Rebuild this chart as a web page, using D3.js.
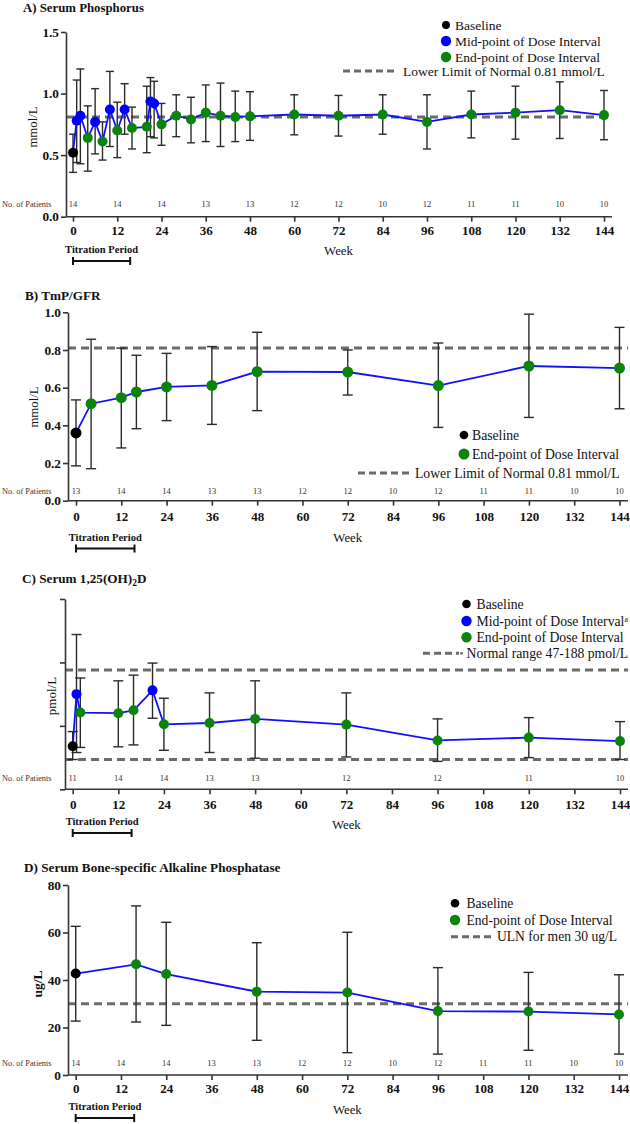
<!DOCTYPE html>
<html><head><meta charset="utf-8">
<script src="https://cdn.jsdelivr.net/npm/d3@7/dist/d3.min.js"></script>
<style>
body{margin:0;background:#fff;}
svg{display:block;font-family:"Liberation Serif","Times New Roman",serif;}
</style></head><body>
<svg id="c" width="630" height="1124"></svg>
<script>
// ---------- shared ----------
const weekTicks = [0,12,24,36,48,60,72,84,96,108,120,132,144];
const titrationWeeks = [0, 15.5];

// ---------- A) Serum Phosphorus (mmol/L) ----------
const phosWeeks = [0,1,2,4,6,8,10,12,14,16,20,21,22,24,28,32,36,40,44,48,60,72,84,96,108,120,132,144];
const phosType  = ["B","M","M","E","M","E","M","E","M","E","E","M","M","E","E","E","E","E","E","E","E","E","E","E","E","E","E","E"];
const phosMean  = [0.52,0.78,0.82,0.64,0.77,0.61,0.87,0.70,0.87,0.72,0.73,0.935,0.92,0.75,0.82,0.79,0.845,0.82,0.81,0.815,0.83,0.82,0.83,0.77,0.83,0.845,0.865,0.825];
const phosHi    = [0.67,1.11,1.20,0.90,1.04,0.77,1.18,0.93,1.08,0.89,1.06,1.13,1.10,0.92,0.99,0.97,1.07,1.085,1.02,1.015,0.99,0.985,0.99,0.99,1.02,1.06,1.095,1.025];
const phosLo    = [0.36,0.44,0.43,0.37,0.51,0.46,0.57,0.48,0.67,0.55,0.52,0.65,0.64,0.58,0.65,0.60,0.61,0.57,0.61,0.62,0.665,0.655,0.67,0.55,0.64,0.63,0.635,0.625];
const phosNWeeks = weekTicks;
const phosN     = [14,14,14,13,13,12,12,10,12,11,11,10,10];
const phosRefs  = [0.81];
const phosYTicks = [0,0.5,1.0,1.5];

// ---------- B) TmP/GFR (mmol/L) ----------
const tmpWeeks = [0,4,12,16,24,36,48,72,96,120,144];
const tmpType  = ["B","E","E","E","E","E","E","E","E","E","E"];
const tmpMean  = [0.36,0.515,0.547,0.577,0.604,0.612,0.685,0.683,0.611,0.715,0.704];
const tmpHi    = [0.535,0.857,0.81,0.772,0.782,0.818,0.894,0.80,0.837,0.99,0.92];
const tmpLo    = [0.185,0.17,0.28,0.382,0.425,0.405,0.478,0.561,0.389,0.442,0.488];
const tmpNWeeks = weekTicks;
const tmpN     = [13,14,14,13,13,12,12,10,12,11,11,10,10];
const tmpRefs  = [0.81];
const tmpYTicks = [0,0.2,0.4,0.6,0.8,1.0];

// ---------- C) Serum 1,25(OH)2D (pmol/L) ----------
const vitWeeks = [0,1,2,12,16,21,24,36,48,72,96,120,144];
const vitType  = ["B","M","E","E","E","M","E","E","E","E","E","E","E"];
const vitMean  = [68,150,121,120,124.5,156,102.5,104.5,111,102,77,81.5,76];
const vitHi    = [91,244,175.5,171,180,199,143.5,152,171,152,111,113,106.7];
const vitLo    = [47,58,66,67,70,112,61.5,58,49,51,44,50,47];
const vitNWeeks = [0,12,24,36,48,72,96,120,144];
const vitN     = [11,14,14,13,13,12,12,11,10];
const vitRefs  = [47,188];
const vitYTicks = [0,100,200,300];

// ---------- D) Serum Bone-specific ALP (ug/L) ----------
const bsapWeeks = [0,16,24,48,72,96,120,144];
const bsapType  = ["B","E","E","E","E","E","E","E"];
const bsapMean  = [42.7,46.6,42.5,35.1,34.7,26.9,26.7,25.5];
const bsapHi    = [62.6,71.2,64.3,55.7,60.1,45.2,43.2,42.2];
const bsapLo    = [22.7,22.3,20.9,14.6,9.4,8.8,10.4,8.8];
const bsapNWeeks = weekTicks;
const bsapN     = [14,14,14,13,13,12,12,10,12,11,11,10,10];
const bsapRefs  = [30];
const bsapYTicks = [0,20,40,60,80];

// ---------- styles ----------
const COL = {B:"#000000", M:"#0000ff", E:"#0a840a"};
const AXIS = "#333333";
const REF = "#6b6b6b";
const LINE = "#1010ff";
const FONT = '"Liberation Serif","Times New Roman",serif';

const svg = d3.select("#c");

function drawPanel(p){
  const g = svg.append("g");
  const x = d3.scaleLinear().domain([0,144]).range([p.x0, p.x1]);
  const y = d3.scaleLinear().domain(p.yDomain).range([p.yBottom, p.yTop]);

  // title
  const t = g.append("text").attr("x", p.titleX).attr("y", p.titleY)
    .attr("font-size", p.titleSize).attr("font-weight","bold").attr("fill","#111");
  p.title.forEach(seg => {
    const ts = t.append("tspan").text(seg.t);
    if (seg.sub) ts.attr("baseline-shift","-25%").attr("font-size", 9.5);
  });

  // reference lines
  p.refs.forEach(v => {
    g.append("line").attr("x1", p.axisX).attr("x2", p.xEnd)
      .attr("y1", y(v)).attr("y2", y(v))
      .attr("stroke", REF).attr("stroke-width", 3).attr("stroke-dasharray","8,5");
  });

  // y axis
  const ya = d3.axisLeft(y).tickValues(p.yTicks).tickSize(5).tickSizeOuter(0).tickPadding(2)
    .tickFormat(p.yFmt);
  const yg = g.append("g").attr("transform", `translate(${p.axisX},0)`).call(ya);
  yg.select(".domain").attr("stroke", AXIS).attr("stroke-width", 1.6);
  yg.selectAll(".tick line").attr("stroke", AXIS).attr("stroke-width", 1.6);
  yg.selectAll(".tick text").attr("font-family", FONT)
    .attr("font-size", 13.3).attr("font-weight","bold").attr("fill","#111");

  // x axis
  const xa = d3.axisBottom(x).tickValues(weekTicks).tickSize(5).tickSizeOuter(0).tickPadding(4);
  const xg = g.append("g").attr("transform", `translate(0,${p.yBottom})`).call(xa);
  xg.select(".domain").remove();
  xg.append("line").attr("x1", p.axisX).attr("x2", p.xEnd).attr("y1",0).attr("y2",0)
    .attr("stroke", AXIS).attr("stroke-width", 1.6);
  xg.selectAll(".tick line").attr("stroke", AXIS).attr("stroke-width", 1.6);
  xg.selectAll(".tick text").attr("font-family", FONT)
    .attr("font-size", 13).attr("font-weight","bold").attr("fill","#111")
    .attr("dy", null).attr("y", p.tickLabelDy);

  // axis titles
  g.append("text").attr("x", x(72)).attr("y", p.yBottom + p.weekDy).attr("text-anchor","middle")
    .attr("font-size", 12.8).attr("fill","#111").text("Week");
  g.append("text")
    .attr("transform", `translate(${p.yLabelX},${p.yLabelY}) rotate(-90)`)
    .attr("text-anchor","middle").attr("font-size", p.yLabelSize)
    .attr("font-weight", p.yLabelBold ? "bold" : "normal").attr("fill","#111").text(p.yLabel);

  // titration period
  g.append("text").attr("x", (x(titrationWeeks[0]) + x(titrationWeeks[1]))/2 ).attr("y", p.yBottom + p.titDy)
    .attr("text-anchor","middle").attr("font-size", 10.5).attr("font-weight","bold").attr("fill","#111")
    .text("Titration Period");
  const by = p.yBottom + p.titDy + 8;
  const bx0 = x(titrationWeeks[0]), bx1 = x(titrationWeeks[1]);
  g.append("line").attr("x1",bx0).attr("x2",bx1).attr("y1",by).attr("y2",by).attr("stroke","#111").attr("stroke-width",2.2);
  [bx0,bx1].forEach(bx => g.append("line").attr("x1",bx).attr("x2",bx).attr("y1",by-4).attr("y2",by+4)
     .attr("stroke","#111").attr("stroke-width",2));

  // No. of patients
  g.append("text").attr("x", 2).attr("y", p.nY).attr("font-size", 8.3).attr("fill","#333").text("No. of Patients");
  g.selectAll(null).data(p.nWeeks).join("text")
    .attr("x", d => x(d)).attr("y", p.nY).attr("text-anchor","middle")
    .attr("font-size", 8.5).attr("fill","#333").text((d,i) => p.n[i]);

  // data
  const pts = p.weeks.map((w,i) => ({w, m:p.mean[i], hi:p.hi[i], lo:p.lo[i], t:p.type[i]}));
  const eb = g.append("g").attr("stroke","#2a2a2a").attr("stroke-width",1.4);
  pts.forEach(d => {
    eb.append("line").attr("x1",x(d.w)).attr("x2",x(d.w)).attr("y1",y(d.lo)).attr("y2",y(d.hi));
    [d.lo,d.hi].forEach(v => eb.append("line").attr("x1",x(d.w)-p.cap).attr("x2",x(d.w)+p.cap)
      .attr("y1",y(v)).attr("y2",y(v)));
  });
  g.append("path").datum(pts)
    .attr("d", d3.line().x(d => x(d.w)).y(d => y(d.m)))
    .attr("fill","none").attr("stroke",LINE).attr("stroke-width",1.8);
  g.selectAll(null).data(pts).join("circle")
    .attr("cx", d => x(d.w)).attr("cy", d => y(d.m)).attr("r", p.r)
    .attr("fill", d => COL[d.t]);

  // legend
  const L = p.legend;
  L.items.forEach((it,i) => {
    const cy = L.rows[i];
    g.append("circle").attr("cx", L.cx).attr("cy", cy).attr("r", it.r).attr("fill", COL[it.t]);
    const tx = g.append("text").attr("x", L.tx).attr("y", cy + 4.5).attr("font-size", L.fs).attr("fill","#111");
    tx.append("tspan").text(it.label);
    if (it.sup) tx.append("tspan").attr("baseline-shift","super").attr("font-size", 8).text(it.sup);
  });
  g.append("line").attr("x1", L.dx0).attr("x2", L.dx1).attr("y1", L.dy).attr("y2", L.dy)
    .attr("stroke", REF).attr("stroke-width", 3).attr("stroke-dasharray", "7,4");
  if (L.dot) g.append("circle").attr("cx", L.dx1 + 2.5).attr("cy", L.dy).attr("r",1.4).attr("fill",REF);
  g.append("text").attr("x", L.dtx).attr("y", L.dy + 4.5).attr("font-size", L.fs).attr("fill","#111").text(L.dlabel);
}

const fmt1 = d3.format(".1f");

drawPanel({
  x0:73, x1:604, axisX:66, xEnd:612, yBottom:216.7, yTop:32, yDomain:[0,1.5],
  yTicks:phosYTicks, yFmt:fmt1, refs:phosRefs,
  title:[{t:"A) Serum Phosphorus"}], titleX:23, titleY:12, titleSize:12.8,
  yLabel:"mmol/L", yLabelX:37, yLabelY:127, yLabelSize:12.8, yLabelBold:false,
  tickLabelDy:18, weekDy:38.3, titDy:36.3, nY:207,
  nWeeks:phosNWeeks, n:phosN,
  weeks:phosWeeks, type:phosType, mean:phosMean, hi:phosHi, lo:phosLo, cap:4, r:5,
  legend:{cx:446, tx:455, rows:[25,41,57], fs:13.5,
    items:[{t:"B",r:4,label:"Baseline"},{t:"M",r:5.2,label:"Mid-point of Dose Interval"},{t:"E",r:5.2,label:"End-point of Dose Interval"}],
    dx0:343, dx1:396, dy:71, dtx:403, dlabel:"Lower Limit of Normal 0.81 mmol/L"}
});

drawPanel({
  x0:76, x1:619.5, axisX:68, xEnd:628, yBottom:500.7, yTop:312.3, yDomain:[0,1.0],
  yTicks:tmpYTicks, yFmt:fmt1, refs:tmpRefs,
  title:[{t:"B) TmP/GFR"}], titleX:25, titleY:300, titleSize:13.2,
  yLabel:"mmol/L", yLabelX:38, yLabelY:407, yLabelSize:12.8, yLabelBold:false,
  tickLabelDy:20, weekDy:40.8, titDy:39.8, nY:494,
  nWeeks:tmpNWeeks, n:tmpN,
  weeks:tmpWeeks, type:tmpType, mean:tmpMean, hi:tmpHi, lo:tmpLo, cap:5, r:5.5,
  legend:{cx:464, tx:472, rows:[435,454], fs:13.7,
    items:[{t:"B",r:4.3,label:"Baseline"},{t:"E",r:5.5,label:"End-point of Dose Interval"}],
    dx0:358, dx1:412, dy:473, dtx:415, dlabel:"Lower Limit of Normal 0.81 mmol/L"}
});

drawPanel({
  x0:72.7, x1:620, axisX:65, xEnd:628, yBottom:789.3, yTop:599, yDomain:[0,300],
  yTicks:vitYTicks, yFmt:() => "", refs:vitRefs,
  title:[{t:"C) Serum 1,25(OH)"},{t:"2",sub:true},{t:"D"}], titleX:22, titleY:583, titleSize:13.2,
  yLabel:"pmol/L", yLabelX:56, yLabelY:696, yLabelSize:13, yLabelBold:false,
  tickLabelDy:19.5, weekDy:39.7, titDy:35.7, nY:780.5,
  nWeeks:vitNWeeks, n:vitN,
  weeks:vitWeeks, type:vitType, mean:vitMean, hi:vitHi, lo:vitLo, cap:5, r:5,
  legend:{cx:466.5, tx:476.5, rows:[604,621,637.3], fs:13.7,
    items:[{t:"B",r:4.3,label:"Baseline"},{t:"M",r:5.2,label:"Mid-point of Dose Interval",sup:"a"},{t:"E",r:5.2,label:"End-point of Dose Interval"}],
    dx0:423, dx1:459, dy:653.3, dtx:466.5, dlabel:"Normal range 47-188 pmol/L", dot:true}
});

drawPanel({
  x0:75.7, x1:619, axisX:68, xEnd:628, yBottom:1075, yTop:885, yDomain:[0,80],
  yTicks:bsapYTicks, yFmt:d3.format("d"), refs:bsapRefs,
  title:[{t:"D) Serum Bone-specific Alkaline Phosphatase"}], titleX:24, titleY:872, titleSize:13.2,
  yLabel:"ug/L", yLabelX:42, yLabelY:984, yLabelSize:13.5, yLabelBold:true,
  tickLabelDy:18, weekDy:39, titDy:35, nY:1066,
  nWeeks:bsapNWeeks, n:bsapN,
  weeks:bsapWeeks, type:bsapType, mean:bsapMean, hi:bsapHi, lo:bsapLo, cap:5, r:5,
  legend:{cx:455, tx:466.5, rows:[903.3,920], fs:13.6,
    items:[{t:"B",r:4.3,label:"Baseline"},{t:"E",r:5.2,label:"End-point of Dose Interval"}],
    dx0:451, dx1:493, dy:936.7, dtx:497, dlabel:"ULN for men 30 ug/L"}
});
</script>
</body></html>
